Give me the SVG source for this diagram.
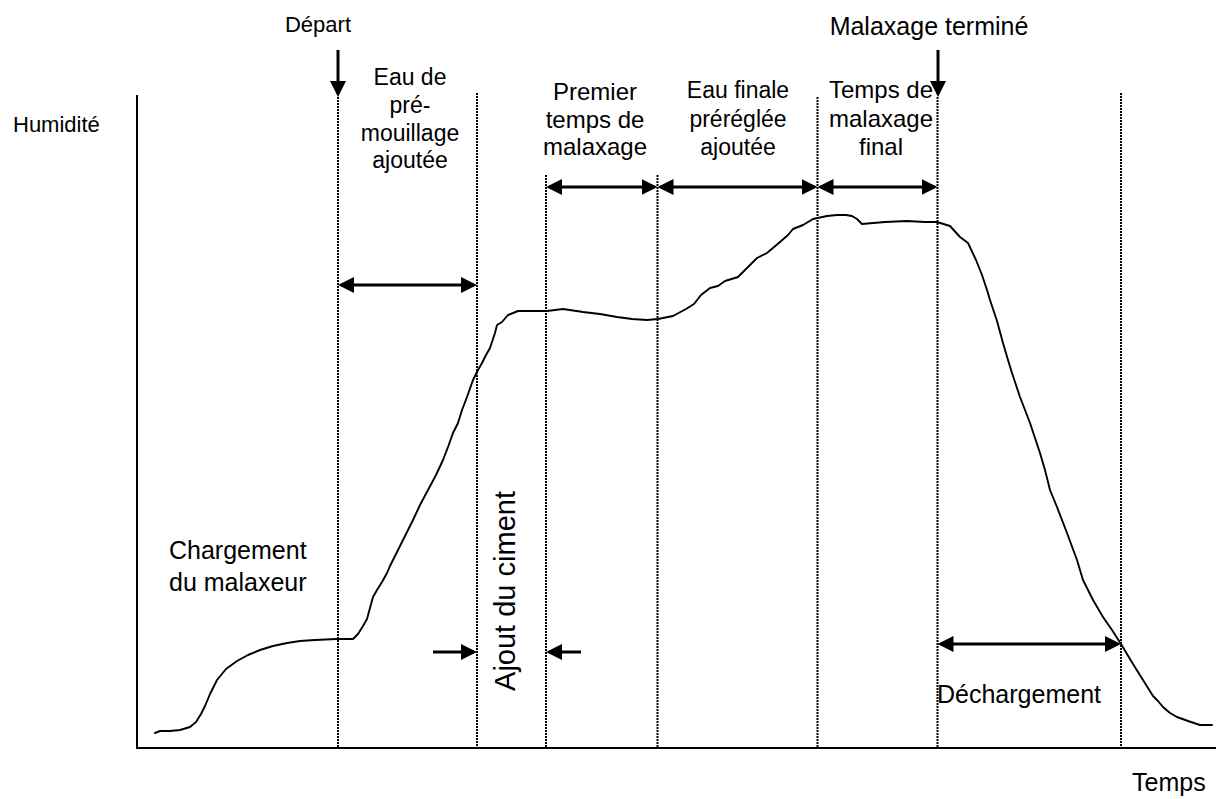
<svg xmlns="http://www.w3.org/2000/svg" width="1219" height="799" viewBox="0 0 1219 799">
<style>
  text { font-family: "Liberation Sans", Arial, sans-serif; fill: #000; }
  .guide { stroke: #000; stroke-width: 2; stroke-dasharray: 2 1; fill: none; }
  .axis { stroke: #000; stroke-width: 2; fill: none; }
  .arrow { stroke: #000; stroke-width: 3; fill: none; }
  .curve { stroke: #000; stroke-width: 1.9; fill: none; stroke-linejoin: round; stroke-linecap: round; }
  .c { text-anchor: middle; }
</style>
<defs>
  <marker id="ah" viewBox="0 0 16 16" refX="13" refY="8" markerWidth="16" markerHeight="16" markerUnits="userSpaceOnUse" orient="auto-start-reverse">
    <path d="M0,0 L16,8 L0,16 z" fill="#000"/>
  </marker>
</defs>
<rect x="0" y="0" width="1219" height="799" fill="#fff"/>

<g id="axes">
  <line class="axis" x1="137" y1="95" x2="137" y2="749"/>
  <line class="axis" x1="136" y1="748" x2="1216" y2="748"/>
</g>

<g id="guides">
  <line class="guide" x1="338" y1="97" x2="338" y2="748"/>
  <line class="guide" x1="477" y1="93" x2="477" y2="748"/>
  <line class="guide" x1="546" y1="175" x2="546" y2="748"/>
  <line class="guide" x1="657.5" y1="175" x2="657.5" y2="748"/>
  <line class="guide" x1="817.5" y1="97" x2="817.5" y2="748"/>
  <line class="guide" x1="937.5" y1="97" x2="937.5" y2="748"/>
  <line class="guide" x1="1121" y1="93" x2="1121" y2="748"/>
</g>

<g id="curve">
  <path class="curve" d="M155,733 L160,731 L170,731 L180,730 L190,727 L196,722 L201,714 L205,706 L210,694 L217,680 L226,669 L237,661 L248,655 L260,650 L273,646 L287,643 L300,641 L315,640 L336,639 L353,639 L358,634 L363,626 L367,619 L370,608 L373,597 L377,590 L382,582 L387,573 L390,566 L396,554 L403,540 L413,520 L420,505 L428,490 L436,475 L443,460 L448,447 L453,433 L458,423 L462,410 L467,397 L473,380 L478,370 L482,363 L486,355 L490,348 L495,333 L497,325 L502,322 L508,315 L518,311 L530,311 L547,311 L563,309 L583,312 L600,314 L617,317 L632,319 L647,320 L658,319 L673,316 L686,309 L694,304 L701,295 L710,288 L718,286 L725,281 L738,277 L747,268 L757,258 L767,253 L780,242 L788,235 L793,229 L803,225 L813,219 L827,216 L837,215 L846,215 L852,216 L857,219 L862,224 L885,222 L907,221 L925,222 L937,222 L950,226 L960,237 L968,243 L976,260 L982,275 L987,290 L990,300 L997,321 L1003,343 L1008,360 L1012,373 L1020,397 L1030,423 L1040,453 L1045,470 L1050,490 L1057,507 L1067,533 L1077,560 L1083,580 L1093,600 L1103,617 L1112,630 L1121,644 L1127,654 L1133,664 L1143,680 L1153,696 L1158,701 L1163,707 L1170,713 L1177,717 L1188,721 L1200,725 L1212,725"/>
</g>

<g id="connectors">
  <line class="arrow" x1="338" y1="50" x2="338" y2="94" marker-end="url(#ah)"/>
  <line class="arrow" x1="938" y1="50" x2="938" y2="94" marker-end="url(#ah)"/>
  <line class="arrow" x1="341" y1="285" x2="474" y2="285" marker-start="url(#ah)" marker-end="url(#ah)"/>
  <line class="arrow" x1="549" y1="187" x2="654.5" y2="187" marker-start="url(#ah)" marker-end="url(#ah)"/>
  <line class="arrow" x1="660.5" y1="187" x2="814.5" y2="187" marker-start="url(#ah)" marker-end="url(#ah)"/>
  <line class="arrow" x1="820.5" y1="187" x2="934.5" y2="187" marker-start="url(#ah)" marker-end="url(#ah)"/>
  <line class="arrow" x1="940.5" y1="644" x2="1118" y2="644" marker-start="url(#ah)" marker-end="url(#ah)"/>
  <line class="arrow" x1="433" y1="652" x2="474" y2="652" marker-end="url(#ah)"/>
  <line class="arrow" x1="581" y1="652" x2="549" y2="652" marker-end="url(#ah)"/>
</g>

<g id="label-depart"><text class="c" x="318" y="32" font-size="22">Départ</text></g>
<g id="label-malaxage-termine"><text class="c" x="929" y="35" font-size="25">Malaxage terminé</text></g>
<g id="label-humidite"><text x="13" y="132" font-size="22">Humidité</text></g>
<g id="label-eau-premouillage">
  <text class="c" x="410" y="85" font-size="23">Eau de</text>
  <text class="c" x="410" y="113" font-size="23">pré-</text>
  <text class="c" x="410" y="141" font-size="23">mouillage</text>
  <text class="c" x="410" y="168" font-size="23">ajoutée</text>
</g>
<g id="label-premier-temps">
  <text class="c" x="595" y="100" font-size="24">Premier</text>
  <text class="c" x="595" y="128" font-size="24">temps de</text>
  <text class="c" x="595" y="155" font-size="24">malaxage</text>
</g>
<g id="label-eau-finale">
  <text class="c" x="738" y="98" font-size="23">Eau finale</text>
  <text class="c" x="738" y="127" font-size="23">préréglée</text>
  <text class="c" x="738" y="155" font-size="23">ajoutée</text>
</g>
<g id="label-temps-final">
  <text class="c" x="881" y="98" font-size="24">Temps de</text>
  <text class="c" x="881" y="127" font-size="24">malaxage</text>
  <text class="c" x="881" y="155" font-size="24">final</text>
</g>
<g id="label-chargement">
  <text x="169" y="559" font-size="25">Chargement</text>
  <text x="169" y="591" font-size="25">du malaxeur</text>
</g>
<g id="label-ajout-ciment">
  <text class="c" transform="translate(515,591) rotate(-90)" x="0" y="0" font-size="29">Ajout du ciment</text>
</g>
<g id="label-dechargement"><text x="937" y="703" font-size="25">Déchargement</text></g>
<g id="label-temps"><text x="1132" y="791" font-size="25">Temps</text></g>
</svg>
